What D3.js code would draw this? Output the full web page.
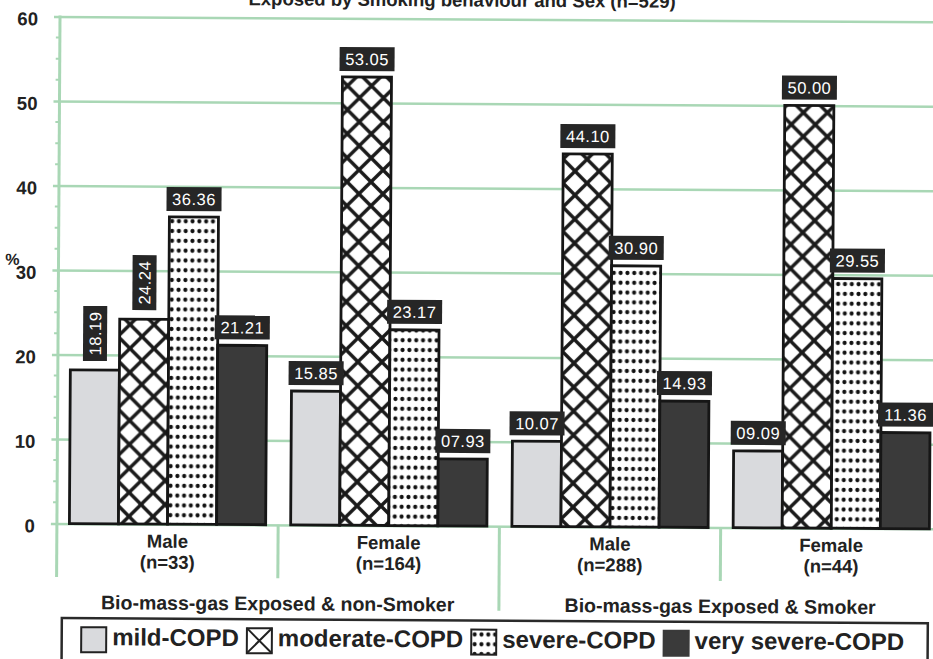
<!DOCTYPE html>
<html>
<head>
<meta charset="utf-8">
<script src="https://cdn.jsdelivr.net/npm/d3@7"></script>
<style>
  body { margin: 0; background: #fff; }
  svg { display: block; font-family: "Liberation Sans", Arial, sans-serif; }
</style>
</head>
<body>
<svg id="chart" width="933" height="659"></svg>
<script>
// data
const title = "Exposed by Smoking behaviour and Sex (n=529)";
const sexLabels = ["Male", "Female", "Male", "Female"];
const nLabels = ["(n=33)", "(n=164)", "(n=288)", "(n=44)"];
const groupLabels = ["Bio-mass-gas Exposed & non-Smoker", "Bio-mass-gas Exposed & Smoker"];
const groupOfCategory = [0, 0, 1, 1];
const series = ["mild-COPD", "moderate-COPD", "severe-COPD", "very severe-COPD"];
const mild = [18.19, 15.85, 10.07, 9.09];
const moderate = [24.24, 53.05, 44.10, 50.00];
const severe = [36.36, 23.17, 30.90, 29.55];
const verySevere = [21.21, 7.93, 14.93, 11.36];
const yTicks = [0, 10, 20, 30, 40, 50, 60];

// labels drawn vertically in the original
const verticalLabels = ["0-0", "0-1"];

const width = 933, height = 659;
const svg = d3.select("#chart");

// the scan is tilted a little, so the whole drawing is too
const g = svg.append("g").attr("transform", "rotate(0.35, 60, 17)");

const left = 60, right = 945;
const y0 = 523.5, y60 = 16.5;
const green = "#a9d7b5";
const ink = "#222";

const values = [mild, moderate, severe, verySevere];
const categories = sexLabels.map((s, i) => i);

const x = d3.scaleBand().domain(categories).range([left, right]);
const xs = d3.scaleBand().domain(d3.range(series.length)).range([12.5, x.bandwidth() - 12.5]);
const y = d3.scaleLinear().domain([0, 60]).range([y0, y60]);

// patterns
const defs = svg.append("defs");
const hatch = defs.append("pattern")
  .attr("id", "hatch").attr("patternUnits", "userSpaceOnUse")
  .attr("width", 24).attr("height", 24);
hatch.append("rect").attr("width", 24).attr("height", 24).attr("fill", "#fff");
hatch.append("path")
  .attr("d", "M0,0L24,24M24,0L0,24M-4,4L4,-4M20,28L28,20M20,-4L28,4M-4,20L4,28")
  .attr("stroke", "#1a1a1a").attr("stroke-width", 3.4);

const dots = defs.append("pattern")
  .attr("id", "dots").attr("patternUnits", "userSpaceOnUse")
  .attr("width", 6.8).attr("height", 9.8);
dots.append("rect").attr("width", 6.8).attr("height", 9.8).attr("fill", "#fff");
dots.append("circle").attr("cx", 3.4).attr("cy", 4.9).attr("r", 2.1).attr("fill", "#111");

const fills = ["#d9dadd", "url(#hatch)", "url(#dots)", "#3a3a3a"];

// y axis with gridlines
const yAxis = d3.axisLeft(y)
  .tickValues(yTicks)
  .tickSize(-(right - left))
  .tickPadding(22)
  .tickFormat(d3.format("d"));

const axisG = g.append("g").attr("transform", `translate(${left},0)`).call(yAxis);
axisG.select(".domain").remove();
axisG.selectAll(".tick line")
  .attr("x1", -6)
  .attr("stroke", green)
  .attr("stroke-width", 2.5);
axisG.selectAll(".tick text")
  .attr("dy", 8.5)
  .attr("fill", ink)
  .style("font-size", "18.5px")
  .style("font-weight", "bold");

// minor ticks
g.selectAll(".minor")
  .data(d3.range(0, 60, 2.5).filter((d) => d % 10 !== 0))
  .enter()
  .append("line")
  .attr("x1", left - 4).attr("x2", left)
  .attr("y1", (d) => y(d)).attr("y2", (d) => y(d))
  .attr("stroke", green).attr("stroke-width", 2);

// y axis line
g.append("line")
  .attr("x1", left).attr("x2", left)
  .attr("y1", y60 - 1).attr("y2", 577)
  .attr("stroke", green).attr("stroke-width", 3);

g.append("text")
  .attr("x", 14).attr("y", 265)
  .attr("text-anchor", "middle")
  .attr("fill", ink)
  .style("font-size", "16px").style("font-weight", "bold")
  .text("%");

// category separators below the axis
categories.slice(1).forEach((c) => {
  const isGroupEdge = groupOfCategory[c] !== groupOfCategory[c - 1];
  g.append("line")
    .attr("x1", x(c)).attr("x2", x(c))
    .attr("y1", y0).attr("y2", isGroupEdge ? 608 : 577)
    .attr("stroke", green).attr("stroke-width", 3);
});

// bars
const barData = categories.flatMap((c) =>
  series.map((s, si) => ({ c, si, value: values[si][c] }))
);

g.selectAll(".bar")
  .data(barData)
  .enter()
  .append("rect")
  .attr("class", "bar")
  .attr("x", (d) => x(d.c) + xs(d.si))
  .attr("y", (d) => y(d.value))
  .attr("width", xs.bandwidth())
  .attr("height", (d) => y(0) - y(d.value))
  .attr("fill", (d) => fills[d.si])
  .attr("stroke", "#161616")
  .attr("stroke-width", 2.8);

// value labels: dark boxes with white text
const fmt = d3.format("05.2f");
const boxW = 55, boxH = 24;

const label = g.selectAll(".vlabel")
  .data(barData)
  .enter()
  .append("g")
  .attr("class", "vlabel")
  .attr("transform", (d) => {
    const cx = x(d.c) + xs(d.si) + xs.bandwidth() / 2;
    const vertical = verticalLabels.includes(`${d.c}-${d.si}`);
    const cy = vertical ? y(d.value) - 7 - boxW / 2 - 2 : y(d.value) - 6 - boxH / 2;
    return `translate(${cx},${cy})` + (vertical ? " rotate(-90)" : "");
  });

label.append("rect")
  .attr("x", -boxW / 2).attr("y", -boxH / 2)
  .attr("width", boxW).attr("height", boxH)
  .attr("fill", "#262626");

label.append("text")
  .attr("text-anchor", "middle")
  .attr("dy", 6)
  .attr("fill", "#fff")
  .style("font-size", "16.5px")
  .style("letter-spacing", "0.5px")
  .text((d) => fmt(d.value));

// category labels (two lines each)
const catG = g.selectAll(".cat")
  .data(categories)
  .enter()
  .append("g")
  .attr("class", "cat")
  .attr("transform", (c) => `translate(${x(c) + x.bandwidth() / 2},0)`);
catG.append("text")
  .attr("y", 547)
  .attr("text-anchor", "middle")
  .attr("fill", ink)
  .style("font-size", "18.5px")
  .style("font-weight", "bold")
  .text((c) => sexLabels[c]);
catG.append("text")
  .attr("y", 568)
  .attr("text-anchor", "middle")
  .attr("fill", ink)
  .style("font-size", "18.5px")
  .style("font-weight", "bold")
  .text((c) => nLabels[c]);

// group labels
g.selectAll(".grp")
  .data(groupLabels)
  .enter()
  .append("text")
  .attr("class", "grp")
  .attr("x", (d, i) => {
    const cs = categories.filter((c) => groupOfCategory[c] === i);
    return (x(cs[0]) + x(cs[cs.length - 1]) + x.bandwidth()) / 2;
  })
  .attr("y", 609)
  .attr("text-anchor", "middle")
  .attr("fill", ink)
  .style("font-size", "19.5px")
  .style("font-weight", "bold")
  .text((d) => d);

// title (cut off at the top of the scan)
g.append("text")
  .attr("x", 462).attr("y", 4)
  .attr("text-anchor", "middle")
  .attr("fill", ink)
  .style("font-size", "18.5px")
  .style("font-weight", "bold")
  .text(title);

// legend
g.append("rect")
  .attr("x", 65.5).attr("y", 618)
  .attr("width", 866).attr("height", 60)
  .attr("fill", "none")
  .attr("stroke", "#2a2a2a").attr("stroke-width", 2.5);

let lx = 85;
series.forEach((s, si) => {
  const sw = g.append("g").attr("transform", `translate(${lx},627)`);
  sw.append("rect")
    .attr("width", 25).attr("height", 25)
    .attr("fill", si === 1 ? "#fff" : fills[si])
    .attr("stroke", si === 3 ? "#3a3a3a" : "#222")
    .attr("stroke-width", 2);
  if (si === 1) {
    sw.append("path").attr("d", "M0,0L25,25M25,0L0,25")
      .attr("stroke", "#222").attr("stroke-width", 2);
  }
  const t = g.append("text")
    .attr("x", lx + 31).attr("y", 645)
    .attr("fill", ink)
    .style("font-size", "24px")
    .style("font-weight", "bold")
    .text(s);
  lx += 31 + t.node().getComputedTextLength() + 8;
});
</script>
</body>
</html>
